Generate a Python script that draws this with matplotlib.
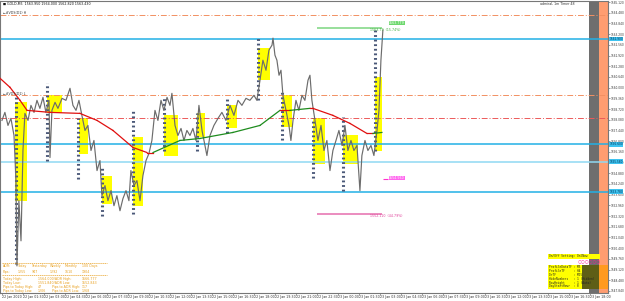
import matplotlib
matplotlib.use("Agg")
import matplotlib.pyplot as plt
import numpy as np
from matplotlib.patches import Rectangle

W, H = 625, 301

# price path, hours since 22 Jan 2020 00:00
price_hours = [0.00, 0.21, 0.43, 0.64, 0.86, 1.00, 1.07, 1.21, 1.36, 1.50, 1.64, 1.86, 2.07, 2.29, 2.50,
               2.71, 2.93, 3.14, 3.36, 3.43, 3.57, 3.79, 4.00, 4.29, 4.57, 4.86, 5.07, 5.29, 5.50, 5.71,
               5.93, 6.14, 6.36, 6.57, 6.79, 7.00, 7.14, 7.36, 7.57, 7.79, 8.00, 8.21, 8.43, 8.64, 8.86,
               9.07, 9.21, 9.43, 9.64, 9.86, 10.07, 10.29, 10.50, 10.71, 10.93, 11.14, 11.36, 11.57, 11.79,
               12.00, 12.14, 12.36, 12.57, 12.79, 13.00, 13.21, 13.43, 13.64, 13.86, 14.07, 14.29, 14.50,
               14.64, 14.86, 15.14, 15.43, 15.71, 16.00, 16.29, 16.57, 16.86, 17.14, 17.43, 17.71, 18.00,
               18.21, 18.43, 18.64, 18.86, 19.07, 19.29, 19.36, 19.50, 19.64, 19.79, 19.93, 20.07, 20.29,
               20.50, 20.64, 20.79, 21.00, 21.21, 21.43, 21.64, 21.86, 22.00, 22.14, 22.36, 22.57, 22.79,
               23.00, 23.21, 23.43, 23.64, 23.86, 24.07, 24.29, 24.50, 24.71, 24.93, 25.14, 25.36, 25.57,
               25.71, 25.93, 26.14, 26.36, 26.57, 26.79, 26.93, 27.07, 27.21]
price_values = [1558.04, 1558.52, 1557.74, 1558.16, 1557.14, 1554.44, 1549.34, 1553.24, 1550.84, 1556.24,
                1558.46, 1558.04, 1558.94, 1558.52, 1559.24, 1558.76, 1559.42, 1558.52, 1559.24, 1555.82,
                1558.64, 1559.12, 1558.76, 1559.36, 1559.24, 1559.96, 1558.94, 1558.64, 1559.24, 1558.34,
                1557.44, 1557.74, 1556.24, 1556.84, 1555.04, 1555.64, 1553.54, 1554.14, 1553.24, 1553.84,
                1552.94, 1553.54, 1552.64, 1553.36, 1553.84, 1553.24, 1555.04, 1554.14, 1554.44, 1553.24,
                1554.74, 1555.64, 1556.06, 1556.84, 1558.64, 1558.04, 1559.24, 1558.64, 1559.42, 1558.94,
                1559.66, 1557.74, 1557.14, 1557.56, 1556.84, 1557.44, 1557.14, 1557.56, 1556.84, 1558.94,
                1557.44, 1556.54, 1555.94, 1557.14, 1557.74, 1558.16, 1558.52, 1558.04, 1558.94, 1558.34,
                1559.24, 1558.94, 1559.36, 1559.24, 1559.54, 1559.24, 1560.44, 1561.64, 1561.04, 1562.24,
                1562.54, 1562.96, 1561.94, 1561.64, 1560.74, 1561.04, 1559.54, 1558.64, 1557.74, 1556.84,
                1558.04, 1559.24, 1558.64, 1559.54, 1559.24, 1560.44, 1560.74, 1559.24, 1558.04, 1556.84,
                1557.74, 1556.24, 1556.84, 1555.04, 1556.24, 1556.84, 1557.44, 1556.54, 1557.74, 1556.24,
                1556.84, 1556.24, 1556.54, 1553.84, 1555.94, 1556.84, 1556.24, 1556.54, 1555.94, 1557.44,
                1558.64, 1561.64, 1563.44]

# moving average
ma_hours = [-0.14, 0.57, 1.29, 1.79, 3.43, 5.57, 6.79, 7.93, 9.36, 10.36, 10.79, 12.71, 14.14, 16.50,
            18.43, 19.86, 20.57, 22.00, 22.21, 23.64, 24.86, 26.07, 26.50, 27.14]
ma_values = [1560.56, 1560.02, 1559.24, 1558.64, 1558.52, 1558.46, 1558.04, 1557.44, 1556.42, 1556.12,
             1556.12, 1556.84, 1556.96, 1557.32, 1557.74, 1558.64, 1558.64, 1558.76, 1558.76, 1558.34,
             1557.86, 1557.26, 1557.26, 1557.32]

# horizontal levels
pivot_levels = [1564.34, 1559.54]
pivot_mid = [1558.16]
sr_levels = [1562.90, 1556.60, 1553.78]
sr_light = [1555.58]

# volume profile value areas: start hour, end hour, top price, bottom price
va_start = [0.93, 3.21, 5.50, 7.14, 9.36, 11.57, 13.93, 16.07, 18.29, 20.00, 22.21, 24.36, 26.64]
va_end = [1.79, 4.29, 6.14, 7.86, 10.07, 12.57, 14.50, 16.79, 19.14, 20.71, 23.07, 25.43, 27.14]
va_top = [1559.12, 1559.54, 1558.16, 1554.74, 1557.02, 1558.34, 1558.46, 1558.94, 1562.36, 1559.54,
          1558.16, 1557.14, 1560.62]
va_bot = [1553.24, 1558.46, 1556.06, 1553.06, 1552.94, 1555.94, 1557.02, 1557.56, 1560.44, 1557.62,
          1555.46, 1555.46, 1556.24]

# profile histogram columns: hour, top price, bottom price
prof_hour = [1.00, 3.21, 5.43, 7.14, 9.36, 11.57, 13.93, 16.07, 18.29, 20.00, 22.21, 24.36, 26.64]
prof_top = [1559.42, 1560.26, 1558.16, 1555.22, 1558.64, 1559.42, 1558.46, 1559.42, 1563.02, 1559.84,
            1558.16, 1558.22, 1563.44]
prof_bot = [1549.46, 1555.64, 1554.56, 1552.34, 1552.46, 1556.24, 1556.24, 1557.26, 1559.24, 1556.84,
            1554.62, 1553.84, 1556.24]

target_hi = 1563.56
target_lo = 1552.46
mark_price = 1554.56

y_ticks = [round(1565.12 - 0.64 * k, 2) for k in range(28)]
x_ticks = [1.5 * k for k in range(29)]
x_labels = []
for k in range(29):
    mins = 90 * k
    day = 22 + mins // 1440
    hh, mm = (mins % 1440) // 60, mins % 60
    x_labels.append("22 Jan 2020" if k == 0 else "%d Jan %02d:%02d" % (day, hh, mm))


def fpos(x, y):
    return x / W, 1 - y / H


fig = plt.figure(figsize=(W / 100, H / 100), dpi=100)
ax = fig.add_axes([0, 8 / H, 608 / W, 292 / H])
ax.set_xlim(-0.14, 43.29)
ax.set_ylim(1547.72, 1565.18)

# right-side bands
ax.axvspan(41.93, 42.64, color="#6e6e6e", zorder=0.5, lw=0)
ax.axvspan(42.64, 43.29, color="#ff9d70", zorder=0.5, lw=0)

for h0, h1, pt, pb in zip(va_start, va_end, va_top, va_bot):
    ax.add_patch(Rectangle((h0, pb), h1 - h0, pt - pb, facecolor="#ffff00", edgecolor="none", zorder=1))

ax.vlines(prof_hour, prof_bot, prof_top, colors="#4a5878", lw=2.2, linestyles=(0, (0.6, 0.9)), zorder=2)

for p in pivot_levels:
    ax.axhline(p, color="#f29062", lw=0.7, ls=(0, (6, 2, 1, 2)), zorder=1.5)
for p in pivot_mid:
    ax.axhline(p, color="#ec5a5a", lw=0.7, ls=(0, (6, 2, 1, 2)), zorder=1.5)
for p in sr_levels:
    ax.axhline(p, color="#22b0e6", lw=1.1, zorder=1.5)
for p in sr_light:
    ax.axhline(p, color="#8fd8f2", lw=1.1, zorder=1.5)

ax.plot(price_hours, price_values, color="#6c6c6c", lw=0.85, zorder=3)

for i in range(len(ma_hours) - 1):
    c = "#1e8c1e" if ma_values[i + 1] > ma_values[i] else "#e01010"
    ax.plot(ma_hours[i:i + 2], ma_values[i:i + 2], color=c, lw=0.9, zorder=4)

ax.hlines(target_hi, 22.5, 27.14, color="#86d98a", lw=1.2, zorder=2)
ax.hlines(target_lo, 22.5, 27.14, color="#e879b4", lw=1.2, zorder=2)
ax.hlines(mark_price, 27.2, 27.6, color="#ff33cc", lw=0.8, zorder=2)

ax.set_xticks(x_ticks)
ax.set_xticklabels(x_labels, fontsize=2.3, ha="left", color="#333333")
ax.yaxis.tick_right()
ax.set_yticks(y_ticks)
ax.set_yticklabels(["%.3f" % v for v in y_ticks], fontsize=2.1, color="#333333")
ax.tick_params(length=1.2, width=0.4, pad=0.4, colors="#555555", labelcolor="#333333")
for s in ax.spines.values():
    s.set_color("#777777")
    s.set_linewidth(0.8)

tr = ax.get_yaxis_transform()
for p in sr_levels + sr_light:
    ax.text(1.002, p, "%.3f" % p, transform=tr, fontsize=2.1, va="center", ha="left", color="#003355",
            bbox=dict(boxstyle="square,pad=0.1", fc="#3ec3f0", ec="none"), clip_on=False)

small = dict(fontsize=2.3, va="center", ha="left")
fig.text(*fpos(3, 4), "\u25a0 GOLD,M5  1563.950 1564.000 1562.820 1563.430", color="#111111", **small)
fig.text(*fpos(3, 13), "\u2190#VDS(D1) H", color="#333333", **small)
fig.text(*fpos(3, 94), "\u2190#VDS(D1) L", color="#333333", **small)
fig.text(*fpos(540, 4), "admiral, 1m Timer 48", color="#333333", **small)
fig.text(*fpos(389, 23), "1563.779", color="#ffffff",
         bbox=dict(boxstyle="square,pad=0.15", fc="#6ed86e", ec="none"), **small)
fig.text(*fpos(370, 30), "1563.79  (15.74%)", color="#3cae3c", **small)
fig.text(*fpos(370, 216), "1552.110  (44.79%)", color="#e0409a", **small)
fig.text(*fpos(389, 178), "1554.560", color="#ffffff",
         bbox=dict(boxstyle="square,pad=0.15", fc="#ff66ee", ec="none"), **small)

# daily range table
orange = "#e8a020"
rows = [
    (266, [(3, "ADR:"), (18, "Today"), (32, "Yesterday"), (50, "Weekly"), (65, "Monthly"), (82, "100 Days")]),
    (272, [(3, "Pips:"), (18, "1255"), (32, "947"), (50, "1292"), (65, "1610"), (82, "1904")]),
    (279, [(3, "Today High:"), (38, "1564.000/ADR High:"), (82, "1566.777")]),
    (283, [(3, "Today Low:"), (38, "1551.840/ADR Low:"), (82, "1552.843")]),
    (287, [(3, "Pips to Today High:"), (38, "47"), (52, "Pips to ADR High:"), (82, "117")]),
    (291, [(3, "Pips to Today Low:"), (38, "1206"), (52, "Pips to ADR Low:"), (82, "1268")]),
]
for y, cells in rows:
    for x, t in cells:
        fig.text(*fpos(x, y), t, color=orange, **small)
for y in (263, 275):
    fig.add_artist(plt.Line2D([2 / W, 107 / W], [1 - y / H, 1 - y / H], color=orange, lw=0.5,
                              ls=(0, (2, 1))))

# settings panel
fig.patches.append(Rectangle(fpos(548, 259), 52 / W, 5 / H, transform=fig.transFigure,
                             fc="#ffff00", ec="none", zorder=5))
fig.patches.append(Rectangle(fpos(548, 289), 34 / W, 24 / H, transform=fig.transFigure,
                             fc="#ffff00", ec="none", zorder=5))
fig.patches.append(Rectangle(fpos(582, 289), 17 / W, 24 / H, transform=fig.transFigure,
                             fc="#5e5e16", ec="none", zorder=5))
fig.patches.append(Rectangle(fpos(599, 289), 9 / W, 24 / H, transform=fig.transFigure,
                             fc="#ff9a20", ec="none", zorder=5))
mono = dict(fontsize=2.1, va="center", ha="left", family="DejaVu Sans Mono", zorder=6)
fig.text(*fpos(549, 256.5), "On/Off Setting: OnlNow", color="#222222", **mono)
fig.text(*fpos(578, 262), "\u25cb\u25cb\u25cb\u25cb\u25cb\u25cb", color="#ff1493",
         fontsize=3.2, va="center", ha="left", zorder=6)
settings = ["ProfileDataTF : M5", "ProfileTF     : H4", "DrTF          : M15",
            "HideNumbers   : 1 (Hidden)", "RowHeight     : 1 (Auto)", "DayStartHour  : 0"]
for i, t in enumerate(settings):
    fig.text(*fpos(549, 267.5 + 3.8 * i), t, color="#222222", **mono)

fig.savefig("out.png", dpi=100)
